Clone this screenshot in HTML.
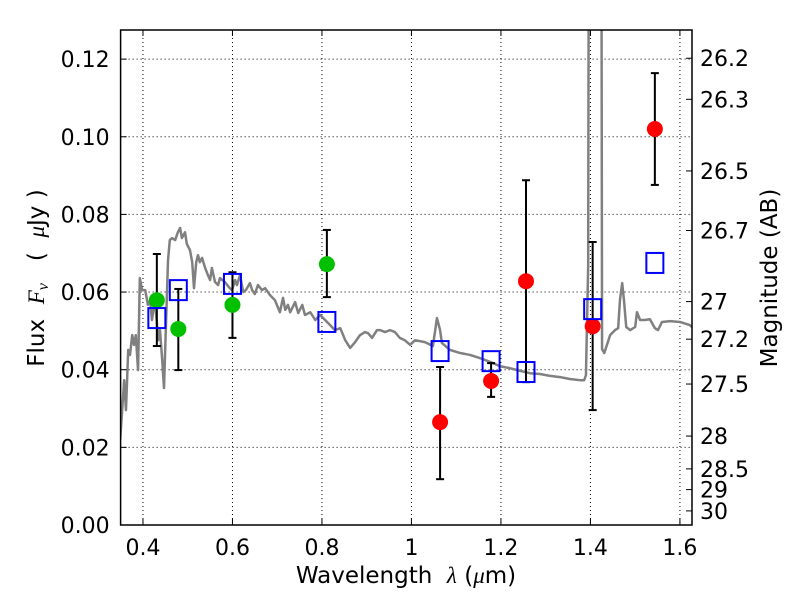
<!DOCTYPE html>
<html><head><meta charset="utf-8"><style>
body{margin:0;background:#fff}
svg{display:block;font-family:"DejaVu Sans","Liberation Sans",sans-serif}
svg text{white-space:pre}
</style></head><body>
<svg id="chart" width="800" height="600" xmlns="http://www.w3.org/2000/svg">
<rect width="800" height="600" fill="#fff"/>
<g id="grid"></g>
<g id="plot"></g>
<g id="axes"></g>
<text x="406" y="583" font-size="23" text-anchor="middle">Wavelength  <tspan font-style="italic" font-family="Liberation Serif, serif">λ</tspan> (<tspan font-style="italic" font-family="Liberation Serif, serif">μ</tspan>m)</text>
<text transform="translate(44,278) rotate(-90)" font-size="23" text-anchor="middle">Flux  <tspan font-style="italic" font-family="Liberation Serif, serif">F<tspan font-size="16" dy="4">ν</tspan></tspan><tspan dy="-4">   (  </tspan><tspan font-style="italic" font-family="Liberation Serif, serif">μ</tspan>Jy )</text>
<text transform="translate(777,278) rotate(-90)" font-size="23" text-anchor="middle">Magnitude (AB)</text>
</svg>
<script>
const xTicks=[0.4,0.6,0.8,1.0,1.2,1.4,1.6];
const xTickLabels=["0.4","0.6","0.8","1","1.2","1.4","1.6"];
const yTicks=[0,0.02,0.04,0.06,0.08,0.10,0.12];
const yTickLabels=["0.00","0.02","0.04","0.06","0.08","0.10","0.12"];
const magTicks=[26.2,26.3,26.5,26.7,27,27.2,27.5,28,28.5,29,30];
const specLam=[0.349,0.358,0.362,0.367,0.371,0.376,0.380,0.384,0.389,0.393,0.398,0.405,0.411,0.416,0.420,0.427,0.434,0.438,0.443,0.447,0.451,0.456,0.460,0.465,0.472,0.478,0.483,0.487,0.494,0.498,0.505,0.510,0.514,0.519,0.523,0.527,0.532,0.539,0.545,0.550,0.554,0.561,0.568,0.572,0.583,0.594,0.599,0.606,0.610,0.617,0.624,0.630,0.639,0.644,0.650,0.657,0.666,0.673,0.684,0.695,0.706,0.713,0.718,0.724,0.729,0.740,0.747,0.756,0.762,0.774,0.785,0.796,0.818,0.829,0.841,0.852,0.863,0.874,0.885,0.896,0.903,0.912,0.923,0.930,0.941,0.952,0.963,0.974,0.985,0.997,1.008,1.030,1.048,1.057,1.064,1.068,1.086,1.109,1.131,1.153,1.176,1.198,1.220,1.243,1.265,1.287,1.310,1.332,1.354,1.377,1.386,1.390,1.395,1.397,1.424,1.426,1.431,1.444,1.455,1.462,1.466,1.471,1.475,1.480,1.489,1.500,1.504,1.511,1.522,1.533,1.544,1.551,1.560,1.578,1.600,1.622,1.627];
const specFlux=[0.0219,0.0373,0.0296,0.0451,0.0438,0.0489,0.0464,0.0489,0.0399,0.0636,0.0605,0.0605,0.0567,0.0579,0.0528,0.0579,0.0476,0.0502,0.0425,0.0353,0.0502,0.0682,0.0734,0.0739,0.0734,0.0754,0.0765,0.0739,0.0754,0.0724,0.0708,0.0677,0.0610,0.0677,0.0695,0.0677,0.0688,0.0662,0.0644,0.0631,0.0662,0.0626,0.0618,0.0636,0.0626,0.0610,0.0605,0.0631,0.0618,0.0644,0.0600,0.0605,0.0623,0.0605,0.0595,0.0618,0.0605,0.0610,0.0592,0.0579,0.0548,0.0585,0.0554,0.0567,0.0548,0.0574,0.0546,0.0567,0.0541,0.0548,0.0528,0.0541,0.0515,0.0502,0.0507,0.0476,0.0456,0.0471,0.0489,0.0497,0.0494,0.0482,0.0502,0.0502,0.0497,0.0502,0.0497,0.0482,0.0476,0.0464,0.0476,0.0471,0.0461,0.0533,0.0502,0.0469,0.0451,0.0443,0.0438,0.0430,0.0420,0.0409,0.0404,0.0397,0.0391,0.0389,0.0384,0.0381,0.0376,0.0373,0.0373,0.0386,0.0670,0.2000,0.2000,0.0453,0.0443,0.0489,0.0502,0.0507,0.0579,0.0623,0.0579,0.0510,0.0502,0.0510,0.0548,0.0528,0.0528,0.0530,0.0507,0.0502,0.0523,0.0525,0.0523,0.0515,0.0510];
const greenLam=[0.431,0.479,0.600,0.811];
const greenFlux=[0.0579,0.0505,0.0567,0.0672];
const greenLo=[0.0461,0.0399,0.0482,0.0587];
const greenHi=[0.0698,0.0608,0.0651,0.0760];
const blueLam=[0.431,0.479,0.600,0.811,1.064,1.178,1.256,1.405,1.544];
const blueFlux=[0.0533,0.0605,0.0621,0.0523,0.0448,0.0422,0.0394,0.0556,0.0675];
const redLam=[1.064,1.178,1.256,1.405,1.544];
const redFlux=[0.0265,0.0371,0.0628,0.0512,0.1020];
const redLo=[0.0118,0.0330,0.0368,0.0296,0.0876];
const redHi=[0.0407,0.0417,0.0888,0.0729,0.1164];

const L=120.6,R=692,T=30,B=525,X0=0.35,X1=1.627,Y0=0,Y1=0.1275;
const sx=v=>L+(v-X0)/(X1-X0)*(R-L);
const sy=v=>B-(v-Y0)/(Y1-Y0)*(B-T);
const NS="http://www.w3.org/2000/svg";
function mk(tag,attrs,parent){const e=document.createElementNS(NS,tag);for(const k in attrs)e.setAttribute(k,attrs[k]);parent.appendChild(e);return e;}
const grid=document.getElementById('grid'),plot=document.getElementById('plot'),axes=document.getElementById('axes');
xTicks.forEach((t,i)=>{
 const g=mk('line',{x1:sx(t),x2:sx(t),y1:T,y2:B,stroke:'#000','stroke-width':1,'stroke-dasharray':'1,3'},grid);
 
 
 mk('line',{x1:sx(t),x2:sx(t),y1:B,y2:B-6,stroke:'#000'},axes);
 mk('line',{x1:sx(t),x2:sx(t),y1:T,y2:T+6,stroke:'#000'},axes);
 const tx=mk('text',{x:sx(t),y:B+30,'font-size':22,'text-anchor':'middle'},axes);tx.textContent=xTickLabels[i];
 
 
});
yTicks.forEach((t,i)=>{
 const g=mk('line',{x1:L,x2:R,y1:sy(t),y2:sy(t),stroke:'#000','stroke-width':1,'stroke-dasharray':'1,3'},grid);
 
 
 mk('line',{x1:L,x2:L+6,y1:sy(t),y2:sy(t),stroke:'#000'},axes);
 const tx=mk('text',{x:L-11,y:sy(t)+8,'font-size':22,'text-anchor':'end'},axes);tx.textContent=yTickLabels[i];
 
 
});
magTicks.forEach(m=>{
 const f=Math.pow(10,(23.9-m)/2.5);const y=sy(f);
 mk('line',{x1:R,x2:R-6,y1:y,y2:y,stroke:'#000'},axes);
 const tx=mk('text',{x:R+8,y:y+8,'font-size':22},axes);tx.textContent=String(m);
 
 
});
const defs=mk('defs',{},plot);const cp=mk('clipPath',{id:'clip'},defs);mk('rect',{x:L,y:T,width:R-L,height:B-T},cp);
const pg=mk('g',{'clip-path':'url(#clip)'},plot);
const sp=mk('polyline',{points:specLam.map((l,i)=>sx(l)+','+sy(specFlux[i])).join(' '),fill:'none',stroke:'#808080','stroke-width':2.5,'stroke-linejoin':'round'},pg);


function errbar(x,lo,hi){
 mk('line',{x1:sx(x),x2:sx(x),y1:sy(lo),y2:sy(hi),stroke:'#000','stroke-width':2},pg);
 mk('line',{x1:sx(x)-4,x2:sx(x)+4,y1:sy(lo),y2:sy(lo),stroke:'#000','stroke-width':2},pg);
 mk('line',{x1:sx(x)-4,x2:sx(x)+4,y1:sy(hi),y2:sy(hi),stroke:'#000','stroke-width':2},pg);
}
greenLam.forEach((l,i)=>errbar(l,greenLo[i],greenHi[i]));
redLam.forEach((l,i)=>errbar(l,redLo[i],redHi[i]));
greenLam.forEach((l,i)=>{const c=mk('circle',{cx:sx(l),cy:sy(greenFlux[i]),r:8,fill:'#00c000'},pg);
 
 });
redLam.forEach((l,i)=>{const c=mk('circle',{cx:sx(l),cy:sy(redFlux[i]),r:8,fill:'#ff0000'},pg);
 
 });
blueLam.forEach((l,i)=>{const r=mk('rect',{x:sx(l)-8.5,y:sy(blueFlux[i])-10,width:17,height:20,fill:'none',stroke:'#0000ff','stroke-width':2},pg);
 
 });
const fr=mk('rect',{x:L,y:T,width:R-L,height:B-T,fill:'none',stroke:'#000','stroke-width':1.5},axes);


</script>
</body></html>
